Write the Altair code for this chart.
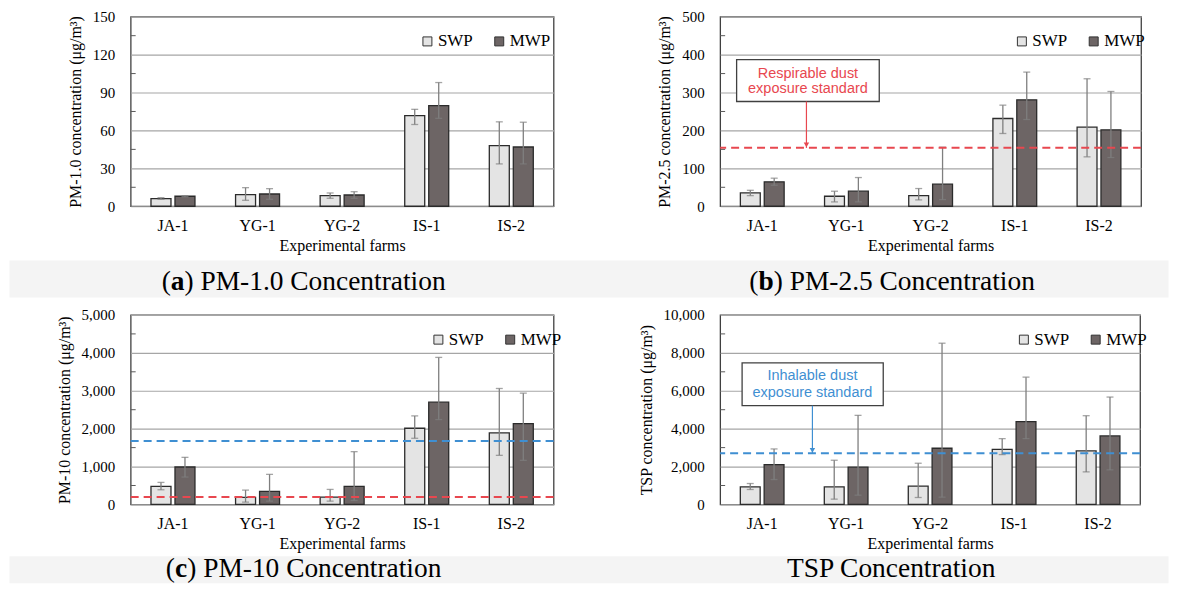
import altair as alt
import numpy as np
import pandas as pd

farms = ["JA-1", "YG-1", "YG-2", "IS-1", "IS-2"]
groups = ["SWP", "MWP"]

# PM-1.0 (ug/m3)
pm1_swp = [6.0, 9.2, 8.4, 71.7, 47.9]
pm1_swp_lo = [5.5, 4.7, 6.3, 64.7, 33.5]
pm1_swp_hi = [6.8, 14.7, 10.5, 76.7, 66.8]
pm1_mwp = [7.9, 9.7, 8.9, 79.6, 46.9]
pm1_mwp_lo = [7.5, 5.5, 6.3, 69.6, 33.5]
pm1_mwp_hi = [8.3, 13.9, 11.5, 97.9, 66.5]

# PM-2.5
pm25_swp = [35.2, 26.4, 28.2, 231.5, 208.6]
pm25_swp_lo = [28, 11.4, 16.7, 191.9, 130.3]
pm25_swp_hi = [42, 39.6, 46.7, 266.7, 336.3]
pm25_mwp = [64.3, 39.6, 58.1, 280.8, 201.6]
pm25_mwp_lo = [55.5, 11.4, 17.6, 228.9, 128.5]
pm25_mwp_hi = [74, 75.7, 155.8, 353.9, 302.8]

# PM-10
pm10_swp = [476, 185, 194, 2011, 1887]
pm10_swp_lo = [388, 62, 88, 1746, 1296]
pm10_swp_hi = [582, 379, 397, 2337, 3060]
pm10_mwp = [988, 344, 476, 2698, 2134]
pm10_mwp_lo = [723, 88, 106, 2240, 1164]
pm10_mwp_hi = [1243, 794, 1393, 3880, 2937]

# TSP
tsp_swp = [930, 930, 965, 2912, 2825]
tsp_swp_lo = [789, 281, 368, 2632, 1719]
tsp_swp_hi = [1105, 2333, 2175, 3474, 4684]
tsp_mwp = [2105, 1965, 2965, 4368, 3614]
tsp_mwp_lo = [1316, 491, 386, 3474, 1825]
tsp_mwp_hi = [2930, 4702, 8509, 6719, 5667]

# exposure standards
respirable_pm25 = 154
respirable_pm10 = 194
inhalable_pm10 = 1675
inhalable_tsp = 2702

SERIF = "Liberation Serif"
SANS = "Liberation Sans"
RED = "#e8474f"
BLUE = "#3f8fd2"
BAND = "#f4f4f4"
H = 190
CAP = 27.5
one = pd.DataFrame({"k": [0]})


def vrect(x, x2, y, y2, **kw):
    return alt.Chart(one).mark_rect(**kw).encode(
        x=alt.value(x), x2=alt.value(x2), y=alt.value(y), y2=alt.value(y2))


def vtext(s, x, y, **kw):
    return alt.Chart(one).mark_text(text=s, **kw).encode(x=alt.value(x), y=alt.value(y))


def make_df(swp, swp_lo, swp_hi, mwp, mwp_lo, mwp_hi):
    rows = []
    for i, f in enumerate(farms):
        rows.append(dict(farm=f, group="SWP", value=swp[i], lo=swp_lo[i], hi=swp_hi[i]))
        rows.append(dict(farm=f, group="MWP", value=mwp[i], lo=mwp_lo[i], hi=mwp_hi[i]))
    return pd.DataFrame(rows)


def caption_layers(letter, rest, center, base, letter_em, rest_em):
    common = dict(font=SERIF, fontSize=CAP, baseline="alphabetic", color="black")
    paren_w = 0.333 * CAP
    letter_w = letter_em * CAP
    total = paren_w + letter_w + rest_em * CAP
    left = center - total / 2
    cx = left + paren_w + letter_w / 2
    return [
        vtext("(", cx - letter_w / 2, base, align="right", **common),
        vtext(letter, cx, base, fontWeight="bold", align="center", **common),
        vtext(rest, cx + letter_w / 2, base, align="left", **common),
    ]


def panel(data, ymax, step, ytitle, width, legend_x, pre_layers, post_layers_fn):
    df = make_df(*data)
    yscale = alt.Scale(domain=[0, ymax], nice=False, zero=True)
    majors = [int(v) for v in np.arange(0, ymax + step / 2, step)]
    minors = pd.DataFrame({"value": np.arange(step / 2, ymax, step)})
    xtitle = "Experimental  farms"
    xscale = alt.Scale(domain=farms, paddingInner=0.48, paddingOuter=0.24)
    xaxis = alt.Axis(labelAngle=0, ticks=False, domain=False, grid=False,
                     labelPadding=11, titlePadding=4)
    xenc = alt.X("farm:N", sort=farms, scale=xscale, axis=xaxis, title=xtitle)
    xo = alt.XOffset("group:N", sort=groups,
                     scale=alt.Scale(domain=groups, paddingInner=0.167, paddingOuter=0))
    yaxis = alt.Axis(values=majors, format=",.0f", ticks=False, domain=False, grid=True,
                     labelPadding=16, titlePadding=9, labelFontSize=15)

    def yq(field):
        return alt.Y(field, type="quantitative", scale=yscale, axis=yaxis, title=ytitle)

    bars = alt.Chart(df).mark_bar(stroke="#2b2b2b", strokeWidth=1.3).encode(
        x=xenc, xOffset=xo, y=yq("value"),
        fill=alt.Fill("group:N", sort=groups, title=None,
                      scale=alt.Scale(domain=groups, range=["#e4e4e4", "#6d6565"]),
                      legend=alt.Legend(orient="none", legendX=legend_x, legendY=16,
                                        direction="horizontal", symbolType="square",
                                        symbolSize=81, symbolStrokeColor="#333333",
                                        symbolStrokeWidth=1, labelFont=SERIF,
                                        labelFontSize=17, labelColor="black",
                                        columnPadding=18, labelOffset=2, padding=0)),
    )
    minor = alt.Chart(minors).mark_rule(color="#595959", strokeWidth=1).encode(
        y=yq("value"), x=alt.value(0), x2=alt.value(5))
    err = alt.Chart(df).mark_rule(color="#7f7f7f", strokeWidth=1.3).encode(
        x=xenc, xOffset=xo, y=yq("lo"), y2=alt.Y2("hi:Q", title=ytitle))
    cap_lo = alt.Chart(df).mark_tick(orient="horizontal", size=7, thickness=1.3,
                                     color="#7f7f7f").encode(x=xenc, xOffset=xo, y=yq("lo"))
    cap_hi = alt.Chart(df).mark_tick(orient="horizontal", size=7, thickness=1.3,
                                     color="#7f7f7f").encode(x=xenc, xOffset=xo, y=yq("hi"))

    post = post_layers_fn(yq)
    layers = pre_layers + [bars, minor, err, cap_lo, cap_hi] + post
    return alt.layer(*layers).properties(width=width, height=H)


def std_line(value, color, yq):
    d = pd.DataFrame({"value": [value]})
    return alt.Chart(d).mark_rule(color=color, strokeWidth=2, strokeDash=[8, 5]).encode(
        y=yq("value"))


def note(lines, color, box, text_x, text_ys, arrow_x, target, yq):
    x1, x2, y1, y2 = box
    d = pd.DataFrame({"value": [target]})
    out = [vrect(x1, x2, y1, y2, fill="white", stroke="#404040", strokeWidth=1.3)]
    for s, ty in zip(lines, text_ys):
        out.append(vtext(s, text_x, ty, font=SANS, fontSize=14.5, color=color,
                         align="center", baseline="middle"))
    out.append(alt.Chart(d).mark_rule(color=color, strokeWidth=1.2).encode(
        x=alt.value(arrow_x), y=yq("value"), y2=alt.value(y2)))
    out.append(alt.Chart(d).mark_point(shape="triangle-down", filled=True, size=30,
                                       color=color, opacity=1).encode(
        x=alt.value(arrow_x), y=yq("value"), yOffset=alt.value(-3)))
    return out


# left column plot at page x ~129.5, right column at ~720.5
pre_a = [vrect(-121.5, 1040.5, 244.5, 281.5, fill=BAND)] + caption_layers(
    "a", ") PM-1.0 Concentration", 173.5, 274, 0.5, 9.527)
chart_a = panel([pm1_swp, pm1_swp_lo, pm1_swp_hi, pm1_mwp, pm1_mwp_lo, pm1_mwp_hi],
                150, 30, "PM-1.0 concentration  (μg/m³)", 424, 289, pre_a,
                lambda yq: [])

pre_b = caption_layers("b", ") PM-2.5 Concentration", 172.5, 274, 0.556, 9.527)
chart_b = panel([pm25_swp, pm25_swp_lo, pm25_swp_hi, pm25_mwp, pm25_mwp_lo, pm25_mwp_hi],
                500, 100, "PM-2.5 concentration  (μg/m³)", 422, 294, pre_b,
                lambda yq: [std_line(respirable_pm25, RED, yq)] + note(
                    ["Respirable dust", "exposure standard"], RED, (16.5, 159.5, 43, 85),
                    88, [57, 72.5], 86.5, respirable_pm25, yq))

pre_c = [vrect(-121.5, 1040.5, 242, 269, fill=BAND)] + caption_layers(
    "c", ") PM-10 Concentration", 173.5, 263, 0.444, 9.277)
chart_c = panel([pm10_swp, pm10_swp_lo, pm10_swp_hi, pm10_mwp, pm10_mwp_lo, pm10_mwp_hi],
                5000, 1000, "PM-10 concentration  (μg/m³)", 424, 300, pre_c,
                lambda yq: [std_line(inhalable_pm10, BLUE, yq),
                            std_line(respirable_pm10, RED, yq)])

pre_d = [vtext("TSP Concentration", 171.5, 263, font=SERIF, fontSize=CAP, align="center",
               baseline="alphabetic", color="black")]
chart_d = panel([tsp_swp, tsp_swp_lo, tsp_swp_hi, tsp_mwp, tsp_mwp_lo, tsp_mwp_hi],
                10000, 2000, "TSP concentration  (μg/m³)", 421, 296, pre_d,
                lambda yq: [std_line(inhalable_tsp, BLUE, yq)] + note(
                    ["Inhalable dust", "exposure standard"], BLUE, (22, 163.5, 48, 91),
                    92.5, [61.5, 78.5], 92.5, inhalable_tsp, yq))

chart = alt.concat(chart_a, chart_b, chart_c, chart_d, columns=2,
                   spacing={"row": 109, "column": 167}, bounds="flush").resolve_scale(
    x="independent", y="independent", fill="independent", xOffset="independent"
).resolve_legend(fill="independent").properties(padding=0).configure_view(
    stroke="#404040", strokeWidth=1.3
).configure_axis(
    labelFont=SERIF, labelFontSize=16, labelColor="black",
    titleFont=SERIF, titleFontSize=16, titleFontWeight="normal", titleColor="black",
    gridColor="#a6a6a6", gridWidth=1.2
)

chart.save("out.html", embed_options={"renderer": "svg", "actions": False})
